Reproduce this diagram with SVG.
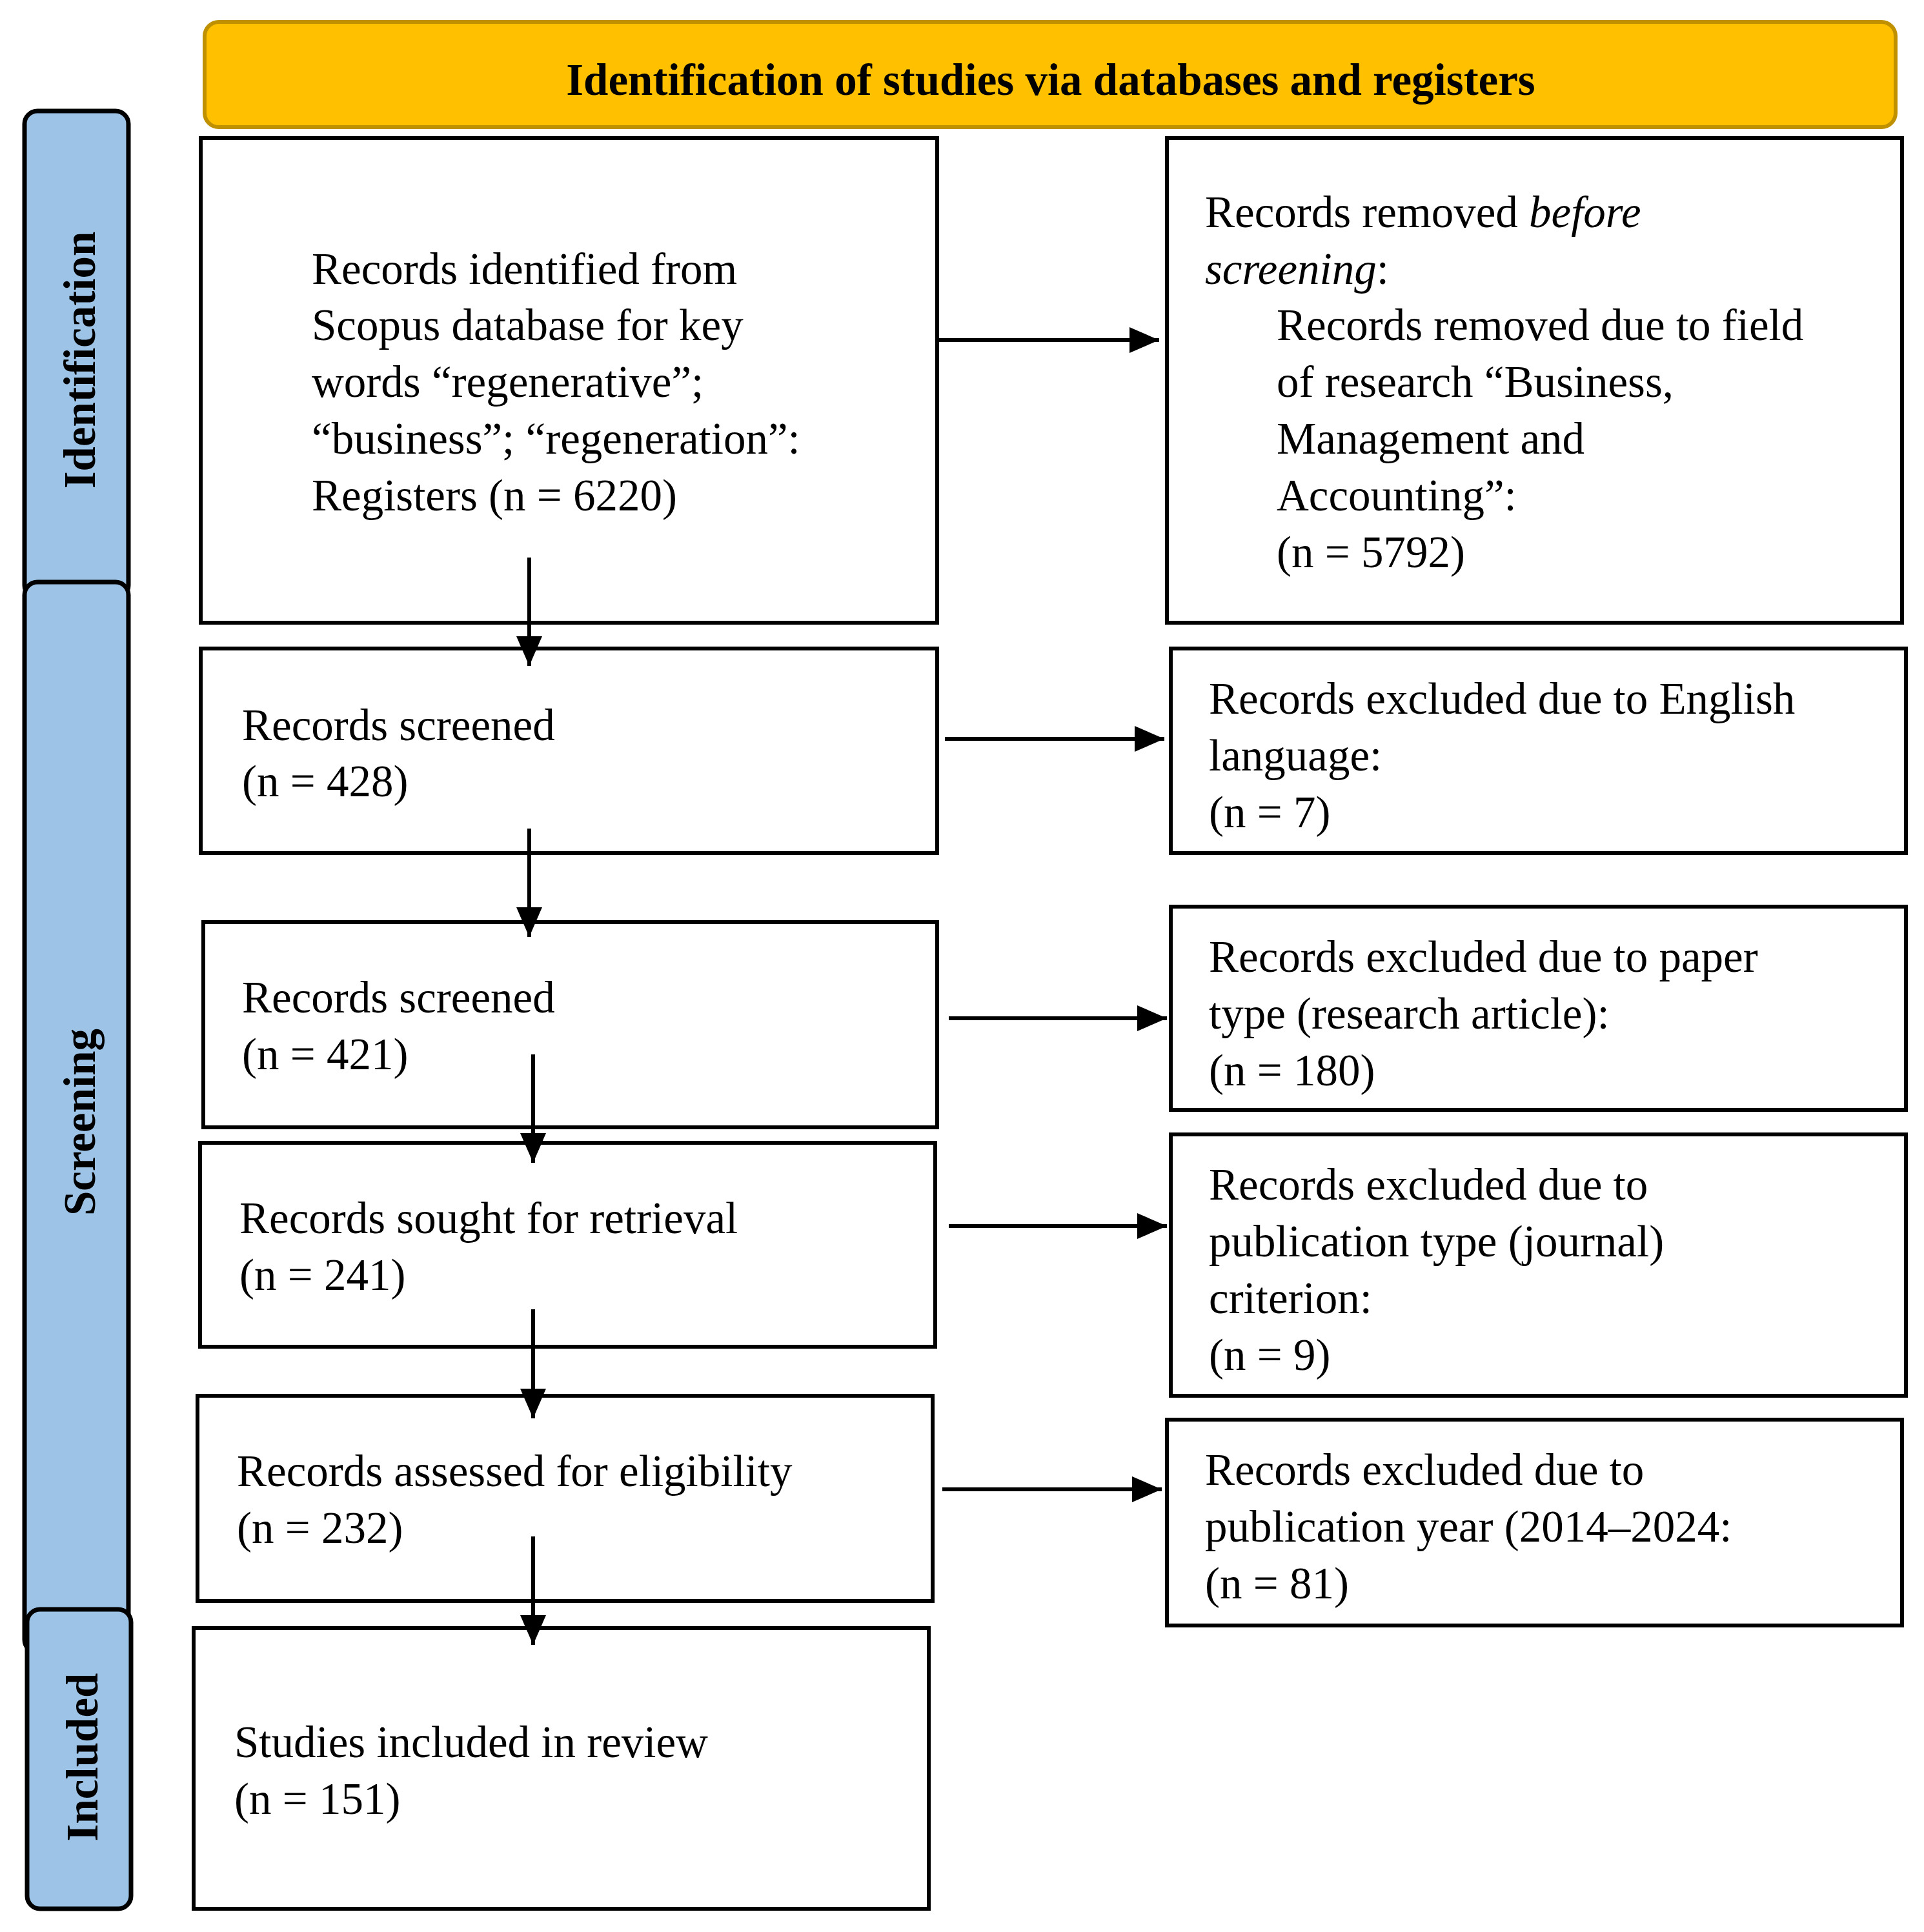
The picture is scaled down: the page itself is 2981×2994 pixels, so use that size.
<svg xmlns="http://www.w3.org/2000/svg" width="2981" height="2994" viewBox="0 0 2981 2994">
<style>
.box{fill:#fff;stroke:#000;stroke-width:6}
.side{fill:#9DC3E6;stroke:#000;stroke-width:7}
.t{font-family:"Liberation Serif",serif;font-size:69px;fill:#000}
.s{font-family:"Liberation Serif",serif;font-size:69px;font-weight:bold;fill:#000;text-anchor:middle;dominant-baseline:central}
.c{stroke:#000;stroke-width:6;fill:none;marker-end:url(#ah)}
</style>
<defs>
<marker id="ah" markerUnits="userSpaceOnUse" markerWidth="46" markerHeight="40" refX="46" refY="20" orient="auto">
<path d="M0,0 L46,20 L0,40 Z" fill="#000"/>
</marker>
</defs>
<rect width="2981" height="2994" fill="#fff"/>
<g id="header">
<rect x="317" y="34" width="2620" height="163" rx="22" fill="#FFC000" stroke="#BF9000" stroke-width="6"/>
<text x="1628" y="147" class="t" font-weight="bold" text-anchor="middle">Identification of studies via databases and registers</text>
</g>
<g id="side-identification">
<rect x="38" y="172" width="161" height="755" rx="20" class="side"/>
<text class="s" transform="translate(124,558) rotate(-90)">Identification</text>
</g>
<g id="side-screening">
<rect x="38" y="902" width="161" height="1659" rx="20" class="side"/>
<text class="s" transform="translate(124,1739) rotate(-90)">Screening</text>
</g>
<g id="side-included">
<rect x="42" y="2494" width="161" height="464" rx="20" class="side"/>
<text class="s" transform="translate(128,2723) rotate(-90)">Included</text>
</g>
<g id="A">
<rect x="311" y="214" width="1141" height="751" class="box"/>
<text class="t"><tspan x="483" y="440">Records identified from</tspan><tspan x="483" y="527">Scopus database for key</tspan><tspan x="483" y="615">words “regenerative”;</tspan><tspan x="483" y="703">“business”; “regeneration”:</tspan><tspan x="483" y="791">Registers (n = 6220)</tspan></text>
</g>
<g id="R1">
<rect x="1808" y="214" width="1139" height="751" class="box"/>
<text class="t"><tspan x="1867" y="352">Records removed <tspan font-style="italic">before</tspan></tspan><tspan x="1867" y="440"><tspan font-style="italic">screening</tspan>:</tspan><tspan x="1978" y="527">Records removed due to field</tspan><tspan x="1978" y="615">of research “Business,</tspan><tspan x="1978" y="703">Management and</tspan><tspan x="1978" y="791">Accounting”:</tspan><tspan x="1978" y="879">(n = 5792)</tspan></text>
</g>
<g id="B">
<rect x="311" y="1005" width="1141" height="317" class="box"/>
<text class="t"><tspan x="375" y="1147">Records screened</tspan><tspan x="375" y="1234">(n = 428)</tspan></text>
</g>
<g id="R2">
<rect x="1814" y="1005" width="1139" height="317" class="box"/>
<text class="t"><tspan x="1873" y="1106">Records excluded due to English</tspan><tspan x="1873" y="1194">language:</tspan><tspan x="1873" y="1282">(n = 7)</tspan></text>
</g>
<g id="C">
<rect x="315" y="1429" width="1137" height="318" class="box"/>
<text class="t"><tspan x="375" y="1569">Records screened</tspan><tspan x="375" y="1657">(n = 421)</tspan></text>
</g>
<g id="R3">
<rect x="1814" y="1405" width="1139" height="315" class="box"/>
<text class="t"><tspan x="1873" y="1506">Records excluded due to paper</tspan><tspan x="1873" y="1594">type (research article):</tspan><tspan x="1873" y="1682">(n = 180)</tspan></text>
</g>
<g id="D">
<rect x="310" y="1771" width="1139" height="316" class="box"/>
<text class="t"><tspan x="371" y="1911">Records sought for retrieval</tspan><tspan x="371" y="1999">(n = 241)</tspan></text>
</g>
<g id="R4">
<rect x="1814" y="1758" width="1139" height="405" class="box"/>
<text class="t"><tspan x="1873" y="1859">Records excluded due to</tspan><tspan x="1873" y="1947">publication type (journal)</tspan><tspan x="1873" y="2035">criterion:</tspan><tspan x="1873" y="2123">(n = 9)</tspan></text>
</g>
<g id="E">
<rect x="306" y="2163" width="1139" height="318" class="box"/>
<text class="t"><tspan x="367" y="2303">Records assessed for eligibility</tspan><tspan x="367" y="2391">(n = 232)</tspan></text>
</g>
<g id="R5">
<rect x="1808" y="2200" width="1139" height="319" class="box"/>
<text class="t"><tspan x="1867" y="2301">Records excluded due to</tspan><tspan x="1867" y="2389">publication year (2014–2024:</tspan><tspan x="1867" y="2477">(n = 81)</tspan></text>
</g>
<g id="F">
<rect x="300" y="2523" width="1139" height="435" class="box"/>
<text class="t"><tspan x="363" y="2723">Studies included in review</tspan><tspan x="363" y="2811">(n = 151)</tspan></text>
</g>
<g id="connectors">
<line x1="820" y1="864" x2="820" y2="1032" class="c"/>
<line x1="820" y1="1284" x2="820" y2="1452" class="c"/>
<line x1="826" y1="1634" x2="826" y2="1802" class="c"/>
<line x1="826" y1="2029" x2="826" y2="2198" class="c"/>
<line x1="826" y1="2381" x2="826" y2="2549" class="c"/>
<line x1="1452" y1="527" x2="1796" y2="527" class="c"/>
<line x1="1464" y1="1145" x2="1804" y2="1145" class="c"/>
<line x1="1470" y1="1578" x2="1808" y2="1578" class="c"/>
<line x1="1470" y1="1900" x2="1808" y2="1900" class="c"/>
<line x1="1460" y1="2308" x2="1800" y2="2308" class="c"/>
</g>
</svg>
